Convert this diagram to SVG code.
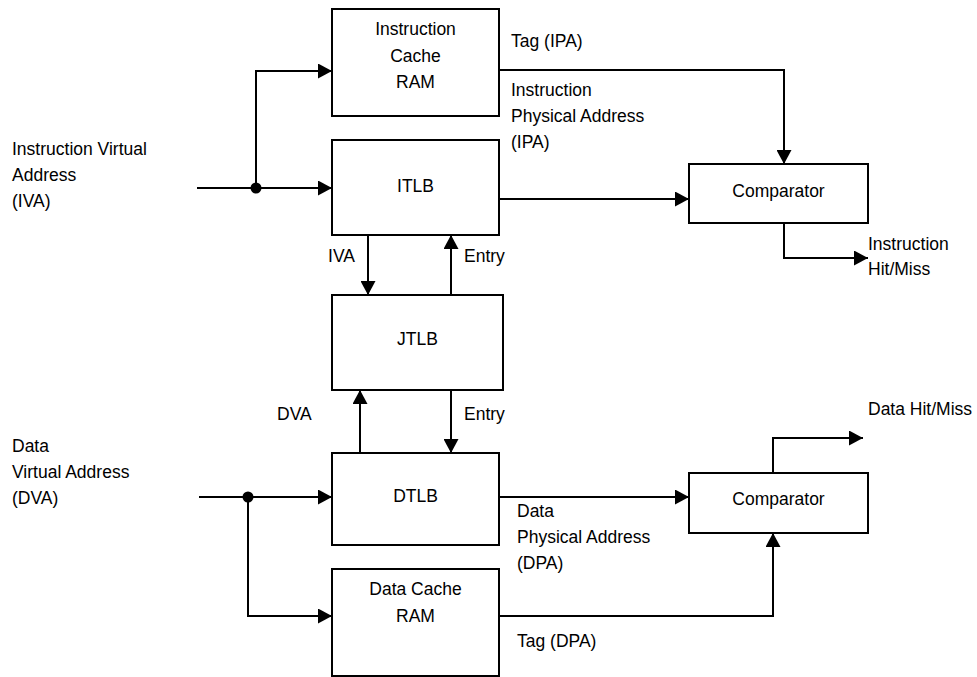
<svg xmlns="http://www.w3.org/2000/svg" width="977" height="677" viewBox="0 0 977 677">
<style>
  .box { fill: #fff; stroke: #000; stroke-width: 2; }
  .ln { fill: none; stroke: #000; stroke-width: 2; }
  .arr { marker-end: url(#ah); }
  text { font-family: "Liberation Sans", Arial, sans-serif; font-size: 17.5px; fill: #000; }
  .c { text-anchor: middle; }
  .e { text-anchor: end; }
</style>
<defs>
  <marker id="ah" markerUnits="userSpaceOnUse" markerWidth="14" markerHeight="15" refX="14" refY="7.5" orient="auto">
    <path d="M0,0 L14,7.5 L0,15 z" fill="#000"/>
  </marker>
</defs>
<rect width="977" height="677" fill="#fff"/>

<g id="connectors">
  <path class="ln arr" d="M197,188 H332"/>
  <path class="ln arr" d="M256,188 V71 H332"/>
  <circle cx="256" cy="188" r="5.5" fill="#000"/>
  <path class="ln arr" d="M499,70 H784 V164"/>
  <path class="ln arr" d="M499,199 H689"/>
  <path class="ln arr" d="M784,223 V258 H868"/>
  <path class="ln arr" d="M368,235 V295"/>
  <path class="ln arr" d="M451,295 V235"/>
  <path class="ln arr" d="M360,453 V390"/>
  <path class="ln arr" d="M451,390 V453"/>
  <path class="ln arr" d="M199,497 H332"/>
  <path class="ln arr" d="M248,497 V616 H332"/>
  <circle cx="248" cy="497" r="5.5" fill="#000"/>
  <path class="ln arr" d="M499,497 H689"/>
  <path class="ln arr" d="M499,616 H773 V533"/>
  <path class="ln arr" d="M773,473 V438 H863"/>
</g>

<g id="labels">
  <text x="12" y="155">Instruction Virtual</text>
  <text x="12" y="181">Address</text>
  <text x="12" y="207">(IVA)</text>
  <text x="511" y="47">Tag (IPA)</text>
  <text x="511" y="96">Instruction</text>
  <text x="511" y="122">Physical Address</text>
  <text x="511" y="148">(IPA)</text>
  <text x="868" y="250">Instruction</text>
  <text x="868" y="275">Hit/Miss</text>
  <text class="e" x="355" y="262">IVA</text>
  <text x="464" y="262">Entry</text>
  <text x="277" y="420">DVA</text>
  <text x="464" y="420">Entry</text>
  <text x="12" y="452">Data</text>
  <text x="12" y="478">Virtual Address</text>
  <text x="12" y="504">(DVA)</text>
  <text x="517" y="517">Data</text>
  <text x="517" y="543">Physical Address</text>
  <text x="517" y="569">(DPA)</text>
  <text x="517" y="647">Tag (DPA)</text>
  <text x="868" y="415">Data Hit/Miss</text>
</g>

<g id="icache">
  <rect class="box" x="332" y="9" width="167" height="107"/>
  <text class="c" x="415.5" y="35">Instruction</text>
  <text class="c" x="415.5" y="62">Cache</text>
  <text class="c" x="415.5" y="88">RAM</text>
</g>
<g id="itlb">
  <rect class="box" x="332" y="140" width="167" height="95"/>
  <text class="c" x="415.5" y="192">ITLB</text>
</g>
<g id="jtlb">
  <rect class="box" x="332" y="295" width="171" height="95"/>
  <text class="c" x="417.5" y="345">JTLB</text>
</g>
<g id="dtlb">
  <rect class="box" x="332" y="453" width="167" height="92"/>
  <text class="c" x="415.5" y="502">DTLB</text>
</g>
<g id="dcache">
  <rect class="box" x="332" y="569" width="167" height="107"/>
  <text class="c" x="415.5" y="595">Data Cache</text>
  <text class="c" x="415.5" y="622">RAM</text>
</g>
<g id="comp-instr">
  <rect class="box" x="689" y="164" width="179" height="59"/>
  <text class="c" x="778.5" y="197">Comparator</text>
</g>
<g id="comp-data">
  <rect class="box" x="689" y="473" width="179" height="60"/>
  <text class="c" x="778.5" y="505">Comparator</text>
</g>
</svg>
